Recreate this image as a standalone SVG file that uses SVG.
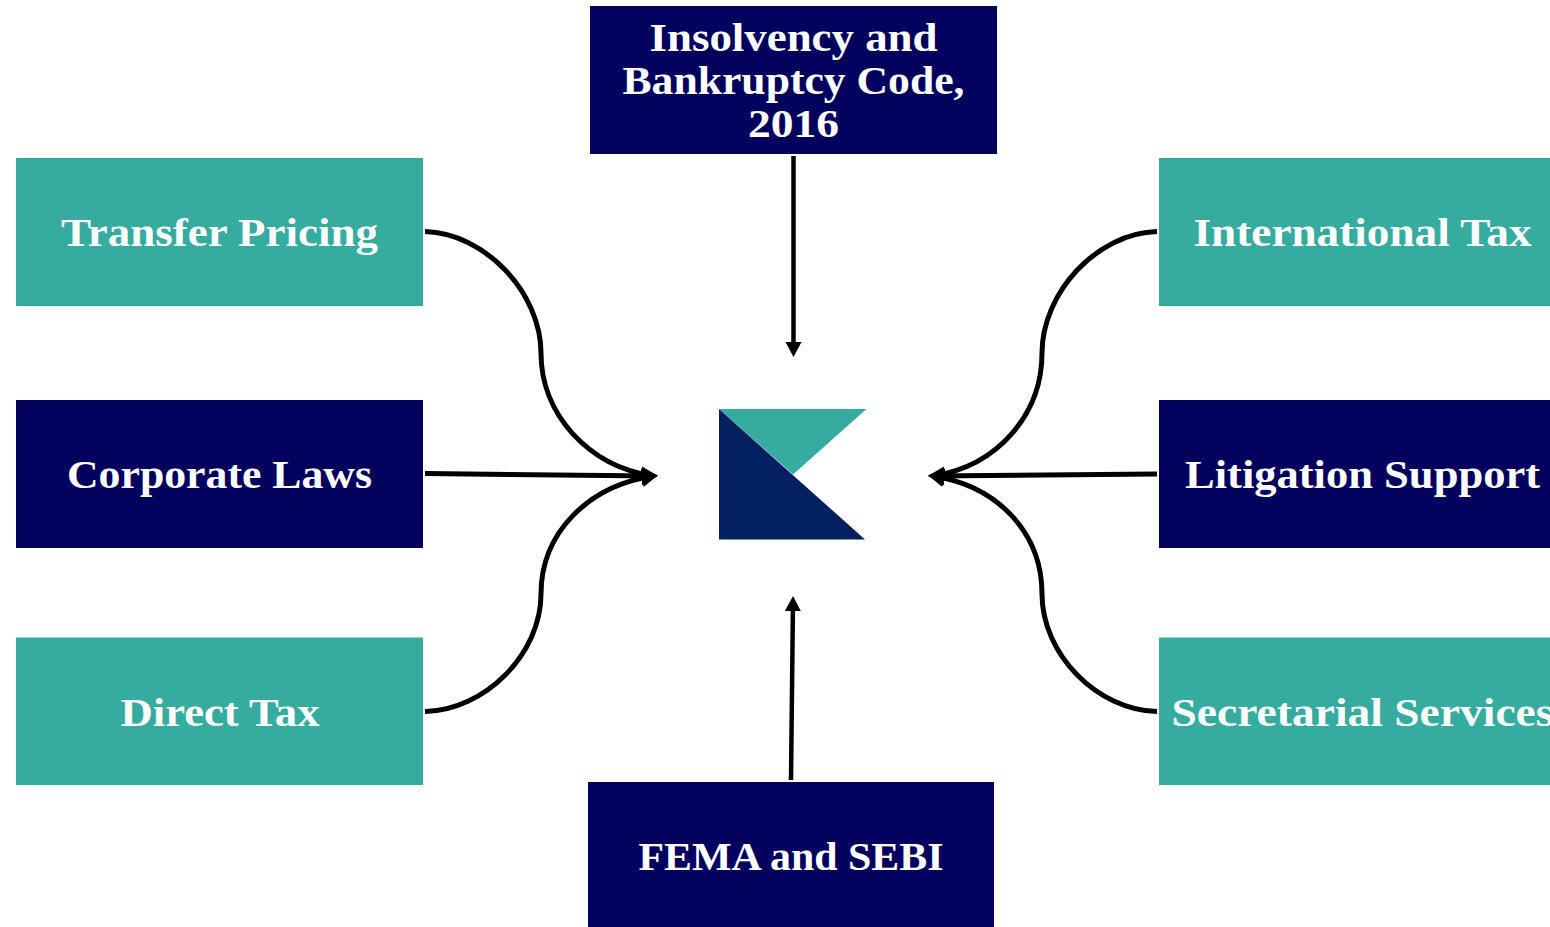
<svg xmlns="http://www.w3.org/2000/svg" width="1550" height="927" viewBox="0 0 1550 927">
<style>
.teal{fill:#36aba0}
.navy{fill:#02025e}
text{font-family:"Liberation Serif","Times New Roman",serif;font-weight:700;font-size:40px;fill:#fff;text-anchor:middle}
.c{fill:none;stroke:#000;stroke-width:5}
.t{fill:none;stroke:#000;stroke-width:4.500}
</style>
<defs>
<marker id="a" markerUnits="userSpaceOnUse" markerWidth="20" markerHeight="20" refX="11" refY="9.500" orient="auto"><path d="M0 0L16 9.500L0 19z" fill="#000"/></marker>
<marker id="b" markerUnits="userSpaceOnUse" markerWidth="20" markerHeight="20" refX="10" refY="8" orient="auto"><path d="M0 0L15 8L0 16z" fill="#000"/></marker>
</defs>
<rect width="1550" height="927" fill="#fff"/>
<g id="connectors">
<path class="c" d="M425 231.500C485 233 541 293 541 353C541 414 588 466 653 476"/>
<path class="c" d="M425 711.500C485 710 541 654 541 594C541 533 588 486 653 476" marker-end="url(#a)"/>
<path class="c" d="M425 473.500L653 476" marker-end="url(#a)"/>
<path class="c" d="M1157 231.500C1097 233 1042 293 1042 353C1042 414 998 466 933 476"/>
<path class="c" d="M1157 711.500C1097 710 1042 654 1042 594C1042 533 998 486 933 476" marker-end="url(#a)"/>
<path class="c" d="M1157 474L933 476" marker-end="url(#a)"/>
<path class="t" d="M793.500 156V352" marker-end="url(#b)"/>
<path class="t" d="M791 780L793 601" marker-end="url(#b)"/>
</g>
<g id="logo">
<path d="M719 409H866.500L793 474.500z" fill="#36aba0"/>
<path d="M719 409L865 539.500H719z" fill="#02205f"/>
</g>
<g id="insolvency"><rect class="navy" x="590" y="6" width="407" height="148"/>
<text x="793.500" y="51" textLength="288" lengthAdjust="spacingAndGlyphs">Insolvency and</text>
<text x="793.500" y="94" textLength="342" lengthAdjust="spacingAndGlyphs">Bankruptcy Code,</text>
<text x="793.500" y="137" textLength="91" lengthAdjust="spacingAndGlyphs">2016</text></g>
<g id="transfer-pricing"><rect class="teal" x="16" y="158" width="407" height="148"/>
<text x="219.500" y="245.500" textLength="317" lengthAdjust="spacingAndGlyphs">Transfer Pricing</text></g>
<g id="corporate-laws"><rect class="navy" x="16" y="400" width="407" height="148"/>
<text x="219.500" y="487.500" textLength="305" lengthAdjust="spacingAndGlyphs">Corporate Laws</text></g>
<g id="direct-tax"><rect class="teal" x="16" y="637.500" width="407" height="147.500"/>
<text x="220" y="725.500" textLength="199" lengthAdjust="spacingAndGlyphs">Direct Tax</text></g>
<g id="international-tax"><rect class="teal" x="1159" y="158" width="391" height="148"/>
<text x="1362.500" y="245.500" textLength="338" lengthAdjust="spacingAndGlyphs">International Tax</text></g>
<g id="litigation-support"><rect class="navy" x="1159" y="400" width="391" height="148"/>
<text x="1362.500" y="487.500" textLength="355" lengthAdjust="spacingAndGlyphs">Litigation Support</text></g>
<g id="secretarial-services"><rect class="teal" x="1159" y="637.500" width="391" height="147.500"/>
<text x="1362.500" y="725.500" textLength="382" lengthAdjust="spacingAndGlyphs">Secretarial Services</text></g>
<g id="fema-sebi"><rect class="navy" x="588" y="782" width="406" height="145"/>
<text x="791" y="870" textLength="305" lengthAdjust="spacingAndGlyphs">FEMA and SEBI</text></g>
</svg>
